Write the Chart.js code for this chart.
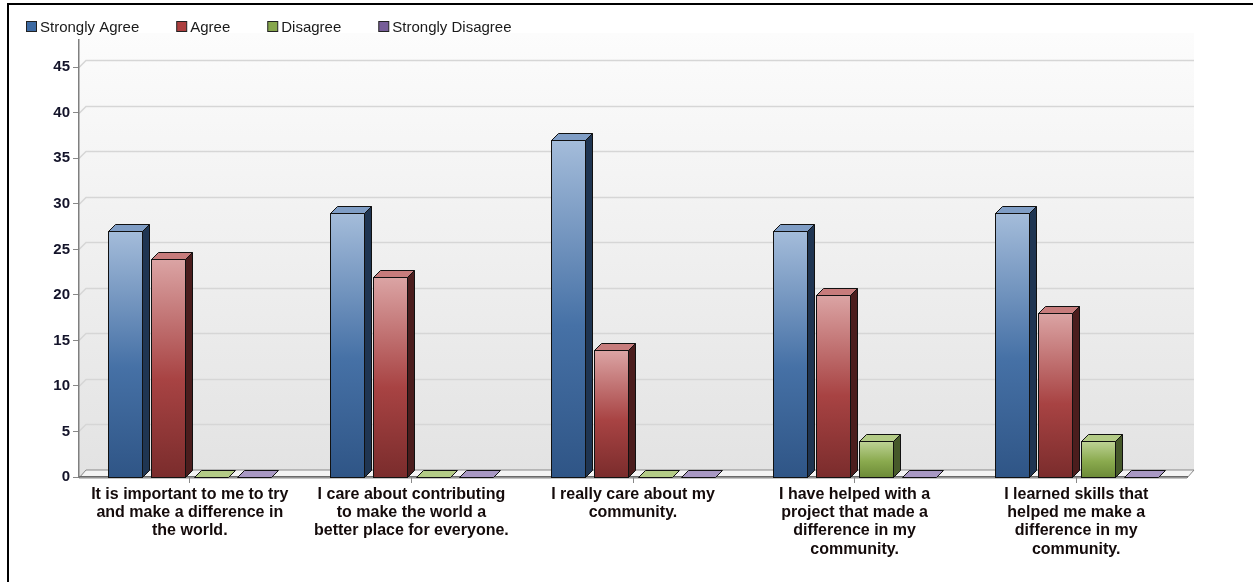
<!DOCTYPE html>
<html>
<head>
<meta charset="utf-8">
<script src="https://cdn.jsdelivr.net/npm/chart.js@4.4.0/dist/chart.umd.min.js"></script>
<style>
  html, body { margin: 0; padding: 0; background: #fff; }
  #wrap { position: relative; width: 1253px; height: 582px; overflow: hidden; }
  #frame { position: absolute; left: 7px; top: 3px; width: 1300px; height: 640px;
           border-top: 2px solid #000; border-left: 2px solid #000; pointer-events: none; }
</style>
</head>
<body>
<div id="wrap">
  <canvas id="myChart" width="1253" height="582"></canvas>
  <div id="frame"></div>
</div>
<script>
// survey answers per statement
const categories = [
    ['It is important to me to try', 'and make a difference in', 'the world.'],
    ['I care about contributing', 'to make the world a', 'better place for everyone.'],
    ['I really care about my', 'community.'],
    ['I have helped with a', 'project that made a', 'difference in my', 'community.'],
    ['I learned skills that', 'helped me make a', 'difference in my', 'community.']
];
const seriesNames = ['Strongly Agree', 'Agree', 'Disagree', 'Strongly Disagree'];
const stronglyAgree = [27, 29, 37, 27, 29];
const agree = [24, 22, 14, 20, 18];
const disagree = [0, 0, 0, 4, 4];
const stronglyDisagree = [0, 0, 0, 0, 0];
const yMax = 48;
const yStep = 5;

// colours for each series: legend, gradient top/mid/bottom, top face, side face
const palette = [
    { legend: '#3d6aa3', top: '#a4bcda', mid: '#4671a6', bottom: '#2f5586', cap: '#7f9dc5', side: '#1f3552' },
    { legend: '#ac3f3f', top: '#dba4a4', mid: '#a84343', bottom: '#7a2c2c', cap: '#c77c7c', side: '#4b1d1d' },
    { legend: '#86a64c', top: '#bdd295', mid: '#8aaa4e', bottom: '#6c8a37', cap: '#b3cb86', side: '#46592a' },
    { legend: '#765d98', top: '#c6b8da', mid: '#7d66a1', bottom: '#5a4879', cap: '#a898c3', side: '#3a2d52' }
];
const depth = 7;
const fontFamily = '"Liberation Sans", Arial, sans-serif';

const bar3d = {
    id: 'bar3d',
    beforeDraw(chart) {
        const ctx = chart.ctx;
        const a = chart.chartArea;
        const yScale = chart.scales.y;
        ctx.save();
        // back wall
        let g = ctx.createLinearGradient(0, a.top - depth, 0, a.bottom - depth);
        g.addColorStop(0, '#fcfcfc');
        g.addColorStop(1, '#e3e3e3');
        ctx.fillStyle = g;
        ctx.fillRect(a.left + depth, a.top - depth, a.right - a.left, a.bottom - a.top);
        // left side wall
        ctx.beginPath();
        ctx.moveTo(a.left, a.top);
        ctx.lineTo(a.left + depth, a.top - depth);
        ctx.lineTo(a.left + depth, a.bottom - depth);
        ctx.lineTo(a.left, a.bottom);
        ctx.closePath();
        ctx.fill();
        // grid lines on the back wall
        ctx.strokeStyle = '#d6d6d6';
        ctx.lineWidth = 1.5;
        yScale.ticks.forEach((t) => {
            const py = Math.round(yScale.getPixelForValue(t.value)) + 0.5;
            ctx.beginPath();
            ctx.moveTo(a.left, py);
            ctx.lineTo(a.left + depth, py - depth);
            ctx.lineTo(a.right + depth, py - depth);
            ctx.stroke();
        });
        // floor
        ctx.beginPath();
        ctx.moveTo(a.left, a.bottom + 1);
        ctx.lineTo(a.left + depth, a.bottom - depth);
        ctx.lineTo(a.right + depth, a.bottom - depth);
        ctx.lineTo(a.right, a.bottom + 1);
        ctx.closePath();
        ctx.fillStyle = '#f4f4f4';
        ctx.fill();
        ctx.strokeStyle = '#8a8a8a';
        ctx.lineWidth = 1;
        ctx.stroke();
        ctx.restore();
    },
    afterDatasetsDraw(chart) {
        const ctx = chart.ctx;
        ctx.save();
        ctx.lineWidth = 1;
        ctx.strokeStyle = '#111';
        ctx.lineJoin = 'miter';
        chart.data.datasets.forEach((ds, i) => {
            const c = palette[i];
            chart.getDatasetMeta(i).data.forEach((el) => {
                const p = el.getProps(['x', 'y', 'base', 'width'], true);
                const l = Math.round(p.x - p.width / 2) + 0.5;
                const r = Math.round(p.x + p.width / 2) + 0.5;
                const t = Math.round(p.y) + 0.5;
                const b = Math.round(p.base) + 0.5;
                if (b - t > 1) {
                    const g = ctx.createLinearGradient(0, t, 0, b);
                    g.addColorStop(0, c.top);
                    g.addColorStop(0.55, c.mid);
                    g.addColorStop(1, c.bottom);
                    ctx.fillStyle = g;
                    ctx.fillRect(l, t, r - l, b - t);
                    ctx.strokeRect(l, t, r - l, b - t);
                    // side
                    ctx.beginPath();
                    ctx.moveTo(r, t);
                    ctx.lineTo(r + depth, t - depth);
                    ctx.lineTo(r + depth, b - depth);
                    ctx.lineTo(r, b);
                    ctx.closePath();
                    ctx.fillStyle = c.side;
                    ctx.fill();
                    ctx.stroke();
                }
                // top
                ctx.beginPath();
                ctx.moveTo(l, t);
                ctx.lineTo(l + depth, t - depth);
                ctx.lineTo(r + depth, t - depth);
                ctx.lineTo(r, t);
                ctx.closePath();
                ctx.fillStyle = c.cap;
                ctx.fill();
                ctx.stroke();
            });
        });
        ctx.restore();
    },
    afterDraw(chart) {
        // legend row on top
        const ctx = chart.ctx;
        ctx.save();
        ctx.font = '15px ' + fontFamily;
        ctx.textBaseline = 'middle';
        let x = 26;
        const y = 27;
        chart.data.datasets.forEach((ds, i) => {
            ctx.fillStyle = palette[i].legend;
            ctx.fillRect(x + 0.5, y - 5.5, 10, 10);
            ctx.strokeStyle = '#222';
            ctx.lineWidth = 1;
            ctx.strokeRect(x + 0.5, y - 5.5, 10, 10);
            ctx.fillStyle = '#1a1a1a';
            ctx.fillText(ds.label, x + 14, y + 1);
            x += 14 + ctx.measureText(ds.label).width + 37;
        });
        ctx.restore();
    }
};

const data = {
    labels: categories,
    datasets: [stronglyAgree, agree, disagree, stronglyDisagree].map((vals, i) => ({
        label: seriesNames[i],
        data: vals,
        backgroundColor: 'rgba(0,0,0,0)',
        borderWidth: 0,
        categoryPercentage: 0.777,
        barPercentage: 0.79
    }))
};

const config = {
    type: 'bar',
    data,
    options: {
        responsive: false,
        animation: false,
        devicePixelRatio: 1,
        layout: { padding: { top: 40, right: 66, bottom: 0, left: 0 } },
        plugins: {
            legend: { display: false },
            tooltip: { enabled: false }
        },
        scales: {
            x: {
                grid: { drawOnChartArea: false, offset: false, tickLength: 6, color: '#888' },
                border: { display: true, color: '#6a6a6a', width: 1.5 },
                ticks: {
                    font: { family: fontFamily, size: 16, weight: 'bold', lineHeight: 1.15 },
                    color: '#140b0b',
                    maxRotation: 0,
                    autoSkip: false,
                    padding: 2
                },
                afterFit(scale) { scale.height = 105; }
            },
            y: {
                min: 0,
                max: yMax,
                grid: { drawOnChartArea: false, tickLength: 6, color: '#888' },
                border: { display: true, color: '#7f7f7f', width: 1.5 },
                ticks: {
                    stepSize: yStep,
                    includeBounds: false,
                    font: { family: fontFamily, size: 15, weight: 'bold' },
                    color: '#14142a',
                    padding: 3
                },
                afterFit(scale) { scale.width = 79; }
            }
        }
    },
    plugins: [bar3d]
};

const myChart = new Chart(document.getElementById('myChart'), config);
</script>
</body>
</html>
